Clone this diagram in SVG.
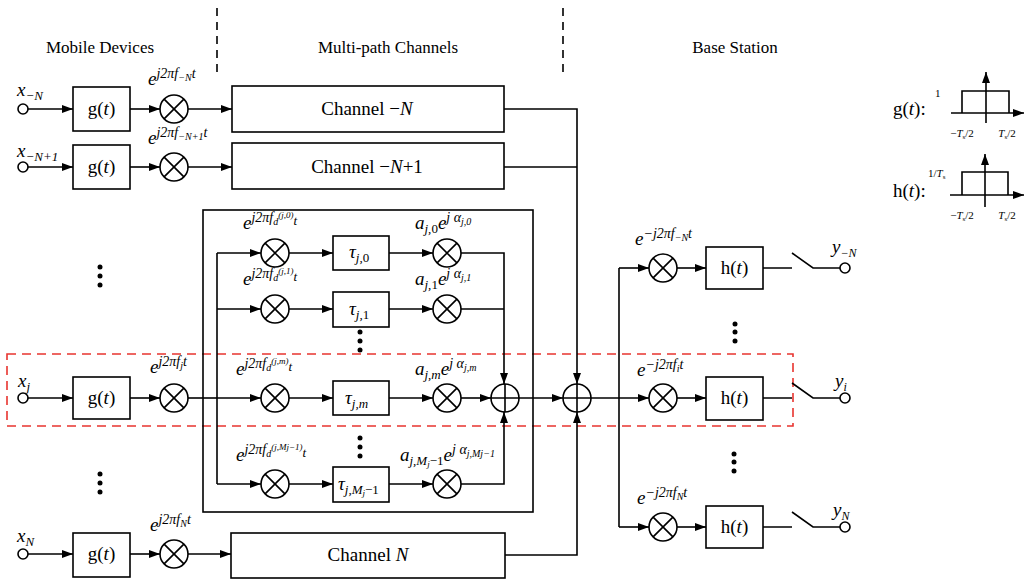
<svg xmlns="http://www.w3.org/2000/svg" width="1024" height="581" viewBox="0 0 1024 581">
<defs>
<style>
.ln{fill:none;stroke:#000;stroke-width:1.6}
.ar{marker-end:url(#arr)}
.box{fill:#fff;stroke:#000;stroke-width:1.6}
.t{font-family:"Liberation Serif","Times New Roman",serif;fill:#000}
.i{font-style:italic}
.hd{font-size:17px;text-anchor:middle}
.bx{font-size:19px;text-anchor:middle}
.m{font-size:19px;font-style:italic}
.dash{fill:none;stroke:#000;stroke-width:1.6;stroke-dasharray:8 6}
.red{fill:none;stroke:#e8342f;stroke-width:1.6;stroke-dasharray:9 6}
.dot{fill:#000}
</style>
<marker id="arr" viewBox="0 0 11 8" refX="11" refY="4" markerWidth="11" markerHeight="8" orient="auto" markerUnits="userSpaceOnUse"><path d="M0,0 L11,4 L0,8 z" fill="#000"/></marker>
<g id="mul"><circle r="14" fill="#fff" stroke="#000" stroke-width="1.6"/><path d="M-9.9,-9.9 L9.9,9.9 M9.9,-9.9 L-9.9,9.9" stroke="#000" stroke-width="1.6"/></g>
<g id="sum"><circle r="14" fill="#fff" stroke="#000" stroke-width="1.6"/><path d="M-14,0 L14,0 M0,-14 L0,14" stroke="#000" stroke-width="1.6"/></g>
<g id="src"><circle r="5" fill="#fff" stroke="#000" stroke-width="1.6"/></g>
</defs>

<!-- section headers -->
<g id="headers">
<line class="dash" x1="217" y1="8" x2="217" y2="72"/>
<line class="dash" x1="563" y1="8" x2="563" y2="72"/>
<text class="t hd" x="100" y="53">Mobile Devices</text>
<text class="t hd" x="388" y="53">Multi-path Channels</text>
<text class="t hd" x="735" y="53">Base Station</text>
</g>

<!-- highlight -->
<rect id="highlight" class="red" x="7" y="354" width="786" height="72"/>

<!-- multipath outer box -->
<rect id="multipath-box" x="203" y="210" width="330" height="302" fill="none" stroke="#000" stroke-width="1.6"/>

<!-- connectors -->
<g id="connectors">
<!-- row -N -->
<path class="ln ar" d="M28,109 H73"/>
<path class="ln ar" d="M130,109 H160"/>
<path class="ln ar" d="M188,109 H232"/>
<!-- row -N+1 -->
<path class="ln ar" d="M28,167 H73"/>
<path class="ln ar" d="M130,167 H160"/>
<path class="ln ar" d="M188,167 H232"/>
<!-- row j -->
<path class="ln ar" d="M28,398 H73"/>
<path class="ln ar" d="M130,398 H160"/>
<path class="ln" d="M188,398 H217"/>
<!-- row N -->
<path class="ln ar" d="M28,554 H73"/>
<path class="ln ar" d="M130,554 H160"/>
<path class="ln ar" d="M188,554 H231"/>
<!-- inner split -->
<path class="ln" d="M217,253 V484"/>
<path class="ln ar" d="M217,253 H261"/>
<path class="ln ar" d="M217,309 H261"/>
<path class="ln ar" d="M217,398 H261"/>
<path class="ln ar" d="M217,484 H261"/>
<path class="ln ar" d="M289,253 H333"/>
<path class="ln ar" d="M289,309 H333"/>
<path class="ln ar" d="M289,398 H333"/>
<path class="ln ar" d="M289,484 H333"/>
<path class="ln ar" d="M389,253 H433"/>
<path class="ln ar" d="M389,309 H433"/>
<path class="ln ar" d="M389,398 H433"/>
<path class="ln ar" d="M389,484 H433"/>
<path class="ln ar" d="M461,253 H504 V384"/>
<path class="ln" d="M461,309 H504"/>
<path class="ln ar" d="M461,398 H491"/>
<path class="ln ar" d="M461,484 H504 V412"/>
<path class="ln ar" d="M519,398 H563"/>
<!-- channels to sum -->
<path class="ln ar" d="M504,109 H577 V384"/>
<path class="ln" d="M504,167 H577"/>
<path class="ln ar" d="M505,555 H577 V412"/>
<!-- receiver -->
<path class="ln ar" d="M591,398 H649"/>
<path class="ln" d="M619,268 V527"/>
<path class="ln ar" d="M619,268 H649"/>
<path class="ln ar" d="M619,527 H649"/>
<path class="ln ar" d="M677,268 H706"/>
<path class="ln ar" d="M677,398 H706"/>
<path class="ln ar" d="M677,527 H706"/>
<!-- switches -->
<path class="ln" d="M763,268 H792 M792,253 L813,268 H840"/>
<path class="ln" d="M763,398 H792 M792,383 L813,398 H840"/>
<path class="ln" d="M763,527 H792 M792,512 L813,527 H840"/>
</g>

<!-- transmitters -->
<g id="tx-minusN">
<use href="#src" x="23" y="109"/>
<text class="t m" x="17" y="96">x<tspan font-size="13" dy="4">−N</tspan></text>
<rect class="box" x="73" y="87" width="57" height="44"/>
<text class="t bx" x="101.5" y="115">g(<tspan class="i">t</tspan>)</text>
<use href="#mul" x="174" y="109"/>
<text class="t m" x="148" y="85">e<tspan font-size="14" dy="-7">j2πf</tspan><tspan font-size="10" dy="3">−N</tspan><tspan font-size="14" dy="-3">t</tspan></text>
</g>
<g id="tx-minusN1">
<use href="#src" x="23" y="167"/>
<text class="t m" x="17" y="157">x<tspan font-size="13" dy="4">−N+1</tspan></text>
<rect class="box" x="73" y="145" width="57" height="44"/>
<text class="t bx" x="101.5" y="173">g(<tspan class="i">t</tspan>)</text>
<use href="#mul" x="174" y="167"/>
<text class="t m" x="148" y="144">e<tspan font-size="14" dy="-7">j2πf</tspan><tspan font-size="10" dy="3">−N+1</tspan><tspan font-size="14" dy="-3">t</tspan></text>
</g>
<g id="tx-j">
<use href="#src" x="23" y="398"/>
<text class="t m" x="18" y="387">x<tspan font-size="13" dy="4">j</tspan></text>
<rect class="box" x="73" y="377" width="57" height="42"/>
<text class="t bx" x="101.5" y="404">g(<tspan class="i">t</tspan>)</text>
<use href="#mul" x="174" y="398"/>
<text class="t m" x="150" y="373">e<tspan font-size="14" dy="-7">j2πf</tspan><tspan font-size="10" dy="3">j</tspan><tspan font-size="14" dy="-3">t</tspan></text>
</g>
<g id="tx-N">
<use href="#src" x="23" y="554"/>
<text class="t m" x="17" y="542">x<tspan font-size="13" dy="4">N</tspan></text>
<rect class="box" x="73" y="533" width="57" height="44"/>
<text class="t bx" x="101.5" y="560">g(<tspan class="i">t</tspan>)</text>
<use href="#mul" x="174" y="554"/>
<text class="t m" x="150" y="531">e<tspan font-size="14" dy="-7">j2πf</tspan><tspan font-size="10" dy="3">N</tspan><tspan font-size="14" dy="-3">t</tspan></text>
</g>
<g id="tx-dots">
<circle class="dot" cx="100" cy="267" r="2.5"/><circle class="dot" cx="100" cy="276" r="2.5"/><circle class="dot" cx="100" cy="285" r="2.5"/>
<circle class="dot" cx="100" cy="474" r="2.5"/><circle class="dot" cx="100" cy="483" r="2.5"/><circle class="dot" cx="100" cy="492" r="2.5"/>
</g>

<!-- channels -->
<g id="channel-minusN">
<rect class="box" x="232" y="86" width="272" height="46"/>
<text class="t bx" x="367" y="115">Channel  −<tspan class="i">N</tspan></text>
</g>
<g id="channel-minusN1">
<rect class="box" x="232" y="143" width="272" height="46"/>
<text class="t bx" x="367" y="173">Channel −<tspan class="i">N</tspan>+1</text>
</g>
<g id="channel-N">
<rect class="box" x="231" y="533" width="274" height="45"/>
<text class="t bx" x="368" y="561">Channel <tspan class="i">N</tspan></text>
</g>

<!-- multipath paths -->
<g id="path-0">
<use href="#mul" x="275" y="253"/>
<text class="t m" x="243" y="229">e<tspan font-size="14" dy="-7">j2πf</tspan><tspan font-size="10" dy="3">d</tspan><tspan font-size="9" dy="-7">(j,0)</tspan><tspan font-size="13" dy="7">t</tspan></text>
<rect class="box" x="333" y="236" width="56" height="34"/>
<text class="t m" x="349" y="258">τ<tspan font-size="13" dy="4">j,</tspan><tspan font-size="13" font-style="normal">0</tspan></text>
<use href="#mul" x="447" y="253"/>
<text class="t m" x="415" y="229">a<tspan font-size="13" dy="4">j,</tspan><tspan font-size="13" font-style="normal">0</tspan><tspan dy="-4">e</tspan><tspan font-size="14" dy="-7">j α</tspan><tspan font-size="10" dy="3">j,0</tspan></text>
</g>
<g id="path-1">
<use href="#mul" x="275" y="309"/>
<text class="t m" x="243" y="285">e<tspan font-size="14" dy="-7">j2πf</tspan><tspan font-size="10" dy="3">d</tspan><tspan font-size="9" dy="-7">(j,1)</tspan><tspan font-size="13" dy="7">t</tspan></text>
<rect class="box" x="333" y="292" width="56" height="35"/>
<text class="t m" x="349" y="315">τ<tspan font-size="13" dy="4">j,</tspan><tspan font-size="13" font-style="normal">1</tspan></text>
<use href="#mul" x="447" y="309"/>
<text class="t m" x="415" y="285">a<tspan font-size="13" dy="4">j,</tspan><tspan font-size="13" font-style="normal">1</tspan><tspan dy="-4">e</tspan><tspan font-size="14" dy="-7">j α</tspan><tspan font-size="10" dy="3">j,1</tspan></text>
</g>
<g id="path-m">
<use href="#mul" x="275" y="398"/>
<text class="t m" x="236" y="375">e<tspan font-size="14" dy="-7">j2πf</tspan><tspan font-size="10" dy="3">d</tspan><tspan font-size="9" dy="-7">(j,m)</tspan><tspan font-size="13" dy="7">t</tspan></text>
<rect class="box" x="333" y="381" width="56" height="34"/>
<text class="t m" x="345" y="404">τ<tspan font-size="13" dy="4">j,m</tspan></text>
<use href="#mul" x="447" y="398"/>
<text class="t m" x="415" y="375">a<tspan font-size="13" dy="4">j,m</tspan><tspan dy="-4">e</tspan><tspan font-size="14" dy="-7">j α</tspan><tspan font-size="10" dy="3">j,m</tspan></text>
</g>
<g id="path-M">
<use href="#mul" x="275" y="484"/>
<text class="t m" x="236" y="461">e<tspan font-size="14" dy="-7">j2πf</tspan><tspan font-size="10" dy="3">d</tspan><tspan font-size="9" dy="-7">(j,Mj−1)</tspan><tspan font-size="13" dy="7">t</tspan></text>
<rect class="box" x="333" y="467" width="56" height="35"/>
<text class="t m" x="338" y="490">τ<tspan font-size="13" dy="4">j,M</tspan><tspan font-size="9" dy="2">j</tspan><tspan font-size="13" font-style="normal" dy="-2">−1</tspan></text>
<use href="#mul" x="447" y="484"/>
<text class="t m" x="400" y="461">a<tspan font-size="13" dy="4">j,M</tspan><tspan font-size="9" dy="2">j</tspan><tspan font-size="13" font-style="normal" dy="-2">−1</tspan><tspan dy="-4">e</tspan><tspan font-size="14" dy="-7">j α</tspan><tspan font-size="10" dy="3">j,Mj−1</tspan></text>
</g>
<g id="path-dots">
<circle class="dot" cx="360" cy="332" r="2.5"/><circle class="dot" cx="360" cy="341" r="2.5"/><circle class="dot" cx="360" cy="350" r="2.5"/>
<circle class="dot" cx="360" cy="438" r="2.5"/><circle class="dot" cx="360" cy="447" r="2.5"/><circle class="dot" cx="360" cy="456" r="2.5"/>
</g>
<g id="sum-path"><use href="#sum" x="505" y="398"/></g>
<g id="sum-channels"><use href="#sum" x="577" y="398"/></g>

<!-- receivers -->
<g id="rx-minusN">
<use href="#mul" x="663" y="268"/>
<text class="t m" x="635" y="245">e<tspan font-size="14" dy="-7">−j2πf</tspan><tspan font-size="10" dy="3">−N</tspan><tspan font-size="14" dy="-3">t</tspan></text>
<rect class="box" x="706" y="247" width="57" height="42"/>
<text class="t bx" x="734.5" y="274">h(<tspan class="i">t</tspan>)</text>
<use href="#src" x="845" y="268"/>
<text class="t m" x="832" y="253">y<tspan font-size="12" dy="4">−N</tspan></text>
</g>
<g id="rx-i">
<use href="#mul" x="663" y="398"/>
<text class="t m" x="637" y="376">e<tspan font-size="14" dy="-7">−j2πf</tspan><tspan font-size="10" dy="3">i</tspan><tspan font-size="14" dy="-3">t</tspan></text>
<rect class="box" x="706" y="377" width="57" height="43"/>
<text class="t bx" x="734.5" y="404">h(<tspan class="i">t</tspan>)</text>
<use href="#src" x="845" y="398"/>
<text class="t m" x="835" y="387">y<tspan font-size="12" dy="4">i</tspan></text>
</g>
<g id="rx-N">
<use href="#mul" x="663" y="527"/>
<text class="t m" x="637" y="504">e<tspan font-size="14" dy="-7">−j2πf</tspan><tspan font-size="10" dy="3">N</tspan><tspan font-size="14" dy="-3">t</tspan></text>
<rect class="box" x="706" y="506" width="57" height="42"/>
<text class="t bx" x="734.5" y="533">h(<tspan class="i">t</tspan>)</text>
<use href="#src" x="845" y="527"/>
<text class="t m" x="833" y="516">y<tspan font-size="12" dy="4">N</tspan></text>
</g>
<g id="rx-dots">
<circle class="dot" cx="735" cy="324" r="2.5"/><circle class="dot" cx="735" cy="332" r="2.5"/><circle class="dot" cx="735" cy="341" r="2.5"/>
<circle class="dot" cx="734" cy="454" r="2.5"/><circle class="dot" cx="734" cy="462" r="2.5"/><circle class="dot" cx="734" cy="471" r="2.5"/>
</g>

<!-- pulse insets -->
<g id="inset-g">
<text class="t" font-size="19" x="893" y="115">g(<tspan class="i">t</tspan>):</text>
<text class="t" font-size="11" x="935" y="97">1</text>
<path class="ln" d="M962,113 V91 H1009 V113"/>
<path class="ln ar" d="M951,113 H1024"/>
<path class="ln ar" d="M986,123 V72"/>
<text class="t" font-size="11" x="962" y="137" text-anchor="middle">−<tspan class="i">T</tspan><tspan font-size="7" dy="2">s</tspan><tspan dy="-2">/2</tspan></text>
<text class="t" font-size="11" x="1007" y="137" text-anchor="middle"><tspan class="i">T</tspan><tspan font-size="7" dy="2">s</tspan><tspan dy="-2">/2</tspan></text>
</g>
<g id="inset-h">
<text class="t" font-size="19" x="893" y="197">h(<tspan class="i">t</tspan>):</text>
<text class="t" font-size="11" x="928" y="177">1/<tspan class="i">T</tspan><tspan font-size="7" dy="2">s</tspan></text>
<path class="ln" d="M962,195 V172 H1008 V195"/>
<path class="ln ar" d="M950,195 H1024"/>
<path class="ln ar" d="M985,207 V154"/>
<text class="t" font-size="11" x="962" y="219" text-anchor="middle">−<tspan class="i">T</tspan><tspan font-size="7" dy="2">s</tspan><tspan dy="-2">/2</tspan></text>
<text class="t" font-size="11" x="1007" y="219" text-anchor="middle"><tspan class="i">T</tspan><tspan font-size="7" dy="2">s</tspan><tspan dy="-2">/2</tspan></text>
</g>
</svg>
